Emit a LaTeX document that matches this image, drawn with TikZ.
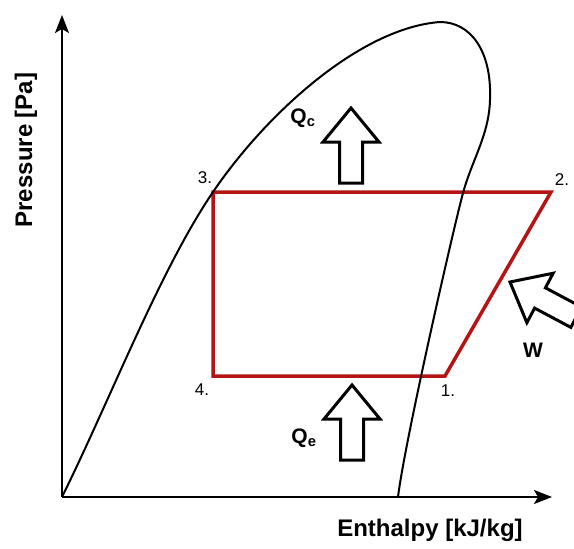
\documentclass[tikz,border=0pt]{standalone}
\usepackage{fontspec}
\setmainfont{Liberation Sans}
\usetikzlibrary{arrows.meta}
\definecolor{cyclered}{RGB}{180,20,20}

\tikzset{
  axislabel/.style={font=\bfseries\fontsize{24}{27}\selectfont},
  heatlabel/.style={font=\bfseries\fontsize{21}{24}\selectfont},
  ptlabel/.style={font=\fontsize{17}{20}\selectfont, inner sep=0pt},
  cycleline/.style={draw=cyclered, line width=3.5pt, line join=miter},
  heatarrow/.pic={\draw[line width=3pt, fill=white, line join=miter]
    (0,0) -- (28,34) -- (11.5,34) -- (11.5,75) -- (-11.5,75) -- (-11.5,34) -- (-28,34) -- cycle;}
}

\begin{document}
\begin{tikzpicture}[x=1pt,y=-1pt]
\clip (0,0) rectangle (574,549);

% cycle corners
\coordinate (p1) at (445,376);
\coordinate (p2) at (551,192);
\coordinate (p3) at (213,192);
\coordinate (p4) at (213,376);
\coordinate (o) at (62,497);
\coordinate (top) at (440,22);
\coordinate (dew) at (398,497);

\draw[cycleline] (p1) -- (p2) -- (p3) -- (p4) -- cycle;

% saturation dome
\draw[line width=2pt] (o) .. controls (110,400) and (160,270) .. (p3)
  .. controls (266,114) and (360,28) .. (top)
  .. controls (470,22) and (492,50) .. (490,100)
  .. controls (489,135) and (472,160) .. (463,193)
  .. controls (455,222) and (405,440) .. (dew);

% axes
\draw[line width=2pt, -{Stealth[length=18pt,width=14pt,inset=4pt]}] (o) -- (552,497);
\draw[line width=2pt, -{Stealth[length=18pt,width=14pt,inset=4pt]}] (o) -- (62,15);
\node[axislabel] (xlab) at (430,530) {Enthalpy [kJ/kg]};
\node[axislabel, rotate=90] (ylab) at (26,150) {Pressure [Pa]};

% state points
\node[ptlabel] (l1) at (448,391) {1.};
\node[ptlabel] (l2) at (562,180) {2.};
\node[ptlabel] (l3) at (205,178) {3.};
\node[ptlabel] (l4) at (202,390) {4.};

% heat and work
\pic at (351,108) {heatarrow};
\pic at (352,385) {heatarrow};
\pic[rotate=62] at (510,282) {heatarrow};
\node[heatlabel] (qc) at (303,118) {Q\textsubscript{c}};
\node[heatlabel] (qe) at (304,438) {Q\textsubscript{e}};
\node[heatlabel] (w) at (533,350) {W};
\end{tikzpicture}
\end{document}
